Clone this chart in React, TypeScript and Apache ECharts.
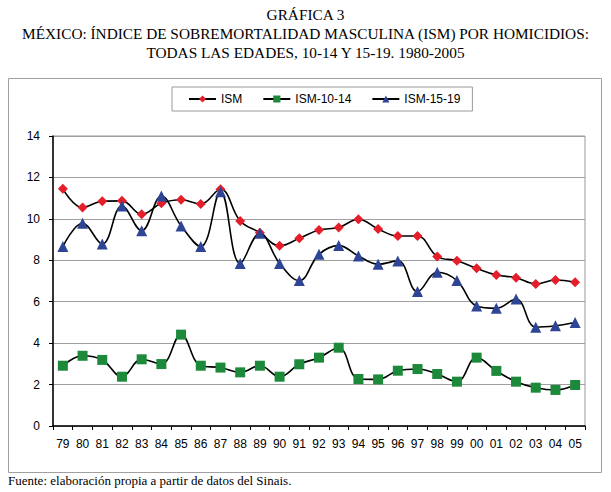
import React, { useEffect, useRef } from "react";
import * as echarts from "echarts";

const categories = [
  "79", "80", "81", "82", "83", "84", "85", "86", "87", "88", "89", "90", "91", "92",
  "93", "94", "95", "96", "97", "98", "99", "00", "01", "02", "03", "04", "05",
];
const ism = [
  11.45, 10.55, 10.85, 10.87, 10.22, 10.75, 10.92, 10.72, 11.43, 9.9, 9.33, 8.7, 9.06, 9.46,
  9.58, 9.98, 9.51, 9.17, 9.17, 8.18, 7.98, 7.61, 7.29, 7.16, 6.86, 7.05, 6.94,
];
const ism1014 = [
  2.91, 3.39, 3.19, 2.38, 3.22, 2.99, 4.41, 2.91, 2.82, 2.59, 2.91, 2.38, 2.98, 3.3,
  3.78, 2.27, 2.25, 2.67, 2.75, 2.51, 2.14, 3.3, 2.66, 2.14, 1.85, 1.74, 1.98,
];
const ism1519 = [
  8.66, 9.79, 8.79, 10.62, 9.43, 11.1, 9.66, 8.66, 11.31, 7.85, 9.3, 7.85, 7.02, 8.29,
  8.71, 8.21, 7.81, 7.97, 6.49, 7.42, 7.02, 5.79, 5.68, 6.13, 4.77, 4.84, 5.0,
];
const seriesNames = ["ISM", "ISM-10-14", "ISM-15-19"];
const titleText =
  "GRÁFICA 3\nMÉXICO: ÍNDICE DE SOBREMORTALIDAD MASCULINA (ISM) POR HOMICIDIOS:\nTODAS LAS EDADES, 10-14 Y 15-19. 1980-2005";
const sourceText = "Fuente: elaboración propia a partir de datos del Sinais.";

const SANS = "Liberation Sans, Arial, sans-serif";
const SERIF = "Liberation Serif, Times New Roman, serif";

export default function App() {
  const ref = useRef<HTMLDivElement>(null);
  useEffect(() => {
    if (!ref.current) return;
    const chart = echarts.init(ref.current, null, { renderer: "svg" });
    const mk = (name: string, data: number[], symbol: string, size: number, color: string) => ({
      name,
      type: "line",
      data,
      smooth: 0.4,
      symbol,
      symbolSize: size,
      showAllSymbol: true,
      lineStyle: { color: "#000", width: 1.6 },
      itemStyle: { color, borderWidth: 0 },
    });
    chart.setOption({
      animation: false,
      backgroundColor: "#fff",
      title: {
        text: titleText,
        left: "center",
        top: 0,
        textStyle: {
          fontFamily: SERIF,
          fontSize: 15.3,
          fontWeight: "normal",
          color: "#000",
          lineHeight: 19,
        },
      },
      legend: {
        data: seriesNames,
        left: 172,
        top: 87,
        width: 296,
        itemWidth: 27,
        itemHeight: 9,
        itemGap: 20,
        padding: [6, 12, 6, 16],
        borderColor: "#999",
        borderWidth: 1,
        textStyle: { fontFamily: SANS, fontSize: 12, color: "#000" },
      },
      grid: {
        left: 53,
        top: 136,
        width: 532,
        height: 290,
        show: true,
        borderColor: "#999",
        borderWidth: 1,
      },
      xAxis: {
        type: "category",
        data: categories,
        boundaryGap: true,
        axisLine: { lineStyle: { color: "#000", width: 1.5 } },
        axisTick: { show: true, length: 4, lineStyle: { color: "#000" } },
        axisLabel: { fontFamily: SANS, fontSize: 12, color: "#000", margin: 12, interval: 0 },
      },
      yAxis: {
        type: "value",
        min: 0,
        max: 14,
        interval: 2,
        axisLine: { show: true, lineStyle: { color: "#000", width: 1.5 } },
        axisTick: { show: true, length: 4, lineStyle: { color: "#000" } },
        axisLabel: { fontFamily: SANS, fontSize: 12, color: "#000", margin: 13 },
        splitLine: { lineStyle: { color: "#a0a0a0", width: 1 } },
      },
      graphic: [
        {
          type: "rect",
          shape: { x: 8.5, y: 78.5, width: 593, height: 394 },
          style: { fill: "none", stroke: "#a0a0a0", lineWidth: 1 },
          z: -1,
        },
        {
          type: "text",
          x: 8,
          y: 480,
          style: {
            text: sourceText,
            fontFamily: SERIF,
            fontSize: 13,
            fill: "#000",
            textVerticalAlign: "middle",
          },
        },
      ],
      series: [
        mk(seriesNames[0], ism, "diamond", 10, "#e41f2a"),
        mk(seriesNames[1], ism1014, "rect", 10, "#1c8a3a"),
        mk(seriesNames[2], ism1519, "triangle", 11, "#2e4596"),
      ],
    });
    return () => chart.dispose();
  }, []);
  return (
    <div
      ref={ref}
      style={{ position: "fixed", left: 0, top: 0, width: 611, height: 492 }}
    />
  );
}
